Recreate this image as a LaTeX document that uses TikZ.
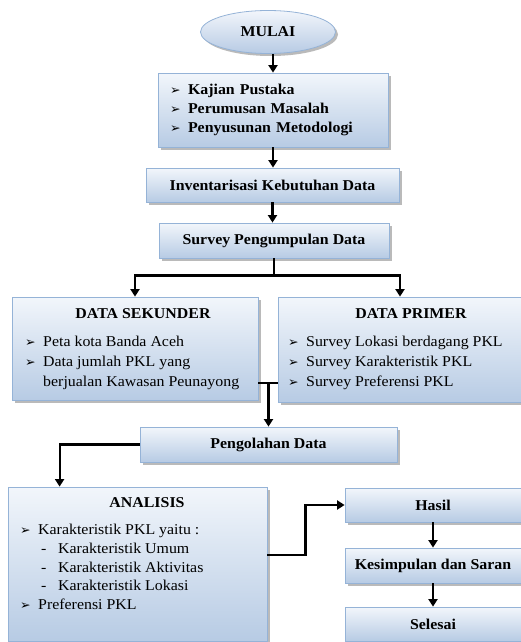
\documentclass[tikz,border=0pt]{standalone}
\usepackage{fontspec}
\setmainfont{Liberation Serif}[FakeStretch=1.06]
\newfontfamily\symfont{DejaVu Sans}
\usetikzlibrary{arrows.meta,positioning,calc,shapes.geometric,shadows}
\definecolor{boxtop}{HTML}{F2F6FB}
\definecolor{boxbot}{HTML}{B7CBE4}
\definecolor{boxline}{HTML}{95B3D7}
\newcommand{\pnt}{\makebox[18pt][l]{\symfont\fontsize{12.5}{10}\selectfont ➢}}
\newcommand{\sub}{\makebox[38pt][l]{\hspace{21pt}-}}

\begin{document}
\begin{tikzpicture}[x=1pt,y=-1pt,
    every node/.style={font=\fontsize{15}{20}\selectfont, inner sep=0pt},
    box/.style={draw=boxline, line width=0.8pt, top color=boxtop, bottom color=boxbot,
      drop shadow={shadow xshift=2.5pt, shadow yshift=-2.5pt, fill=black!45, opacity=0.6}},
    title/.style={box, font=\fontsize{15}{20}\selectfont\bfseries},
    head/.style={font=\fontsize{15}{20}\selectfont\bfseries},
    line/.style={line width=2.2pt},
    arr/.style={line, -{Triangle[length=7.5pt,width=9pt]}}]
  \useasboundingbox (0,0) rectangle (521,642);
  \node[ellipse, title, minimum width=135, minimum height=43] (mulai) at (268,32) {MULAI};
  \node[box, inner xsep=12pt, text width=206pt, minimum height=74pt, align=left,
    font=\fontsize{15}{19}\selectfont\bfseries] (kajian) at (273,110)
    {\pnt Kajian Pustaka\\ \pnt Perumusan Masalah\\ \pnt Penyusunan Metodologi};
  \node[title, minimum width=253, minimum height=34] (inv) at (272.5,185) {Inventarisasi Kebutuhan Data};
  \node[title, minimum width=230, minimum height=35] (survey) at (274,240.5) {Survey Pengumpulan Data};

  \node[box, minimum width=246, minimum height=103] (sekunder) at (135,348.5) {};
  \node[head, anchor=base] (sekunder-head) at (143,318) {DATA SEKUNDER};
  \node[anchor=north west, align=left] (sekunder-list) at (25,336)
    {\pnt Peta kota Banda Aceh\\ \pnt Data jumlah PKL yang\\ \makebox[18pt]{}berjualan Kawasan Peunayong};
  \node[box, minimum width=244, minimum height=105] (primer) at (400,349.5) {};
  \node[head, anchor=base] (primer-head) at (411,318) {DATA PRIMER};
  \node[anchor=north west, align=left] (primer-list) at (288,336)
    {\pnt Survey Lokasi berdagang PKL\\ \pnt Survey Karakteristik PKL\\ \pnt Survey Preferensi PKL};

  \node[title, minimum width=257, minimum height=35] (olah) at (268.5,444.5) {Pengolahan Data};
  \node[box, minimum width=259, minimum height=154] (analisis) at (137.5,564) {};
  \node[head, anchor=base] (analisis-head) at (147,507) {ANALISIS};
  \node[anchor=north west, align=left, font=\fontsize{15}{18.7}\selectfont] (analisis-list) at (20,524)
    {\pnt Karakteristik PKL yaitu :\\ \sub Karakteristik Umum\\ \sub Karakteristik Aktivitas\\
     \sub Karakteristik Lokasi\\ \pnt Preferensi PKL};

  \node[title, minimum width=176, minimum height=34] (hasil) at (433,505) {Hasil};
  \node[title, minimum width=176, minimum height=35] (simpul) at (433,565.5) {Kesimpulan dan Saran};
  \node[title, minimum width=176, minimum height=34] (selesai) at (433,624) {Selesai};

  \draw[arr] (kajian.north |- mulai.south) -- (kajian.north);
  \draw[arr] (kajian.south) -- (kajian.south |- inv.north);
  \draw[arr] (inv.south) -- (inv.south |- survey.north);
  \draw[line] (survey.south) -- ++(0,17) coordinate (split);
  \draw[arr] (split) -| (sekunder.north);
  \draw[arr] (split) -| (primer.north);
  \coordinate (merge) at (268.5,383);
  \draw[line] (sekunder.east |- merge) -- (primer.west |- merge);
  \draw[arr] (merge) -- (olah.north);
  \draw[arr] (olah.west) -| ($(analisis.north west)+(52,0)$);
  \draw[arr] ($(analisis.east)+(0,-9)$) -- ++(38,0) |- (hasil.west);
  \draw[arr] (hasil.south) -- (simpul.north);
  \draw[arr] (simpul.south) -- (selesai.north);
\end{tikzpicture}
\end{document}
